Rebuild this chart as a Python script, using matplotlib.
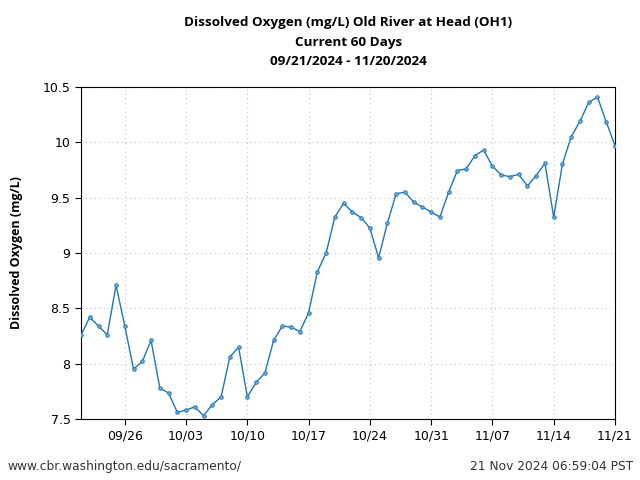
import numpy as np
import pandas as pd
import matplotlib
matplotlib.use("Agg")
import matplotlib.pyplot as plt
import matplotlib.dates as mdates
from matplotlib.ticker import FuncFormatter

# daily dissolved oxygen, 09/21/2024 .. 11/21/2024
start_date = "2024-09-21"
do_values = [
    8.26, 8.42, 8.34, 8.26, 8.71, 8.34, 7.95, 8.02, 8.21, 7.78,
    7.735, 7.56, 7.58, 7.61, 7.53, 7.63, 7.70, 8.06, 8.15, 7.70,
    7.83, 7.915, 8.21, 8.34, 8.33, 8.29, 8.46, 8.83, 9.00, 9.325,
    9.45, 9.37, 9.32, 9.225, 8.955, 9.27, 9.535, 9.55, 9.46, 9.415,
    9.37, 9.325, 9.55, 9.745, 9.76, 9.88, 9.93, 9.785, 9.705, 9.69,
    9.71, 9.605, 9.70, 9.81, 9.325, 9.805, 10.05, 10.19, 10.36, 10.41,
    10.185, 9.97,
]
tick_dates = ["2024-09-26", "2024-10-03", "2024-10-10", "2024-10-17",
              "2024-10-24", "2024-10-31", "2024-11-07", "2024-11-14",
              "2024-11-21"]
y_ticks = [7.5, 8, 8.5, 9, 9.5, 10, 10.5]

dates = pd.date_range(start_date, periods=len(do_values), freq="D")

title_font = ["Open Sans", "DejaVu Sans"]

fig = plt.figure(figsize=(6.4, 4.8), dpi=100)
ax = fig.add_axes([0.1266, 0.1271, 0.8343, 0.6917])

ax.plot(dates, do_values, color="#1f77b4", linewidth=1.0, marker="o",
        markersize=2.6, markerfacecolor="#6fa8d6", markeredgecolor="#1f77b4",
        markeredgewidth=0.6, zorder=3)

ax.set_xlim(pd.Timestamp("2024-09-21"), pd.Timestamp("2024-11-21"))
ax.set_ylim(7.5, 10.5)
ax.set_xticks(pd.to_datetime(tick_dates))
ax.xaxis.set_major_formatter(mdates.DateFormatter("%m/%d"))
ax.set_yticks(y_ticks)
ax.yaxis.set_major_formatter(FuncFormatter(lambda v, p: f"{v:g}"))
ax.tick_params(axis="both", labelsize=9, direction="out", length=4)

ax.grid(True, linestyle=(0, (1, 3)), color="#c4c4c4", linewidth=0.8, zorder=0)

ax.set_ylabel("Dissolved Oxygen (mg/L)", fontsize=9, fontweight="bold",
              family=title_font, labelpad=14)

fig.text(0.544, 0.953, "Dissolved Oxygen (mg/L) Old River at Head (OH1)",
         ha="center", va="center", fontsize=9.7, fontweight="bold",
         family=title_font)
fig.text(0.544, 0.912, "Current 60 Days", ha="center", va="center",
         fontsize=9.7, fontweight="bold", family=title_font)
fig.text(0.544, 0.872, "09/21/2024 - 11/20/2024", ha="center", va="center",
         fontsize=9.7, fontweight="bold", family=title_font)

fig.text(0.012, 0.029, "www.cbr.washington.edu/sacramento/", ha="left",
         va="center", fontsize=8.8, color="#333333")
fig.text(0.990, 0.029, "21 Nov 2024 06:59:04 PST", ha="right",
         va="center", fontsize=8.8, color="#333333")

fig.savefig("out.png", dpi=100)
